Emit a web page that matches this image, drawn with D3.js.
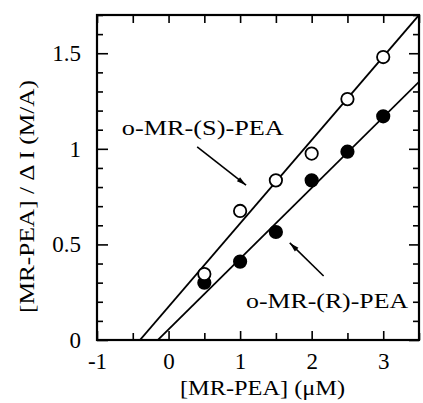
<!DOCTYPE html>
<html>
<head>
<meta charset="utf-8">
<script src="https://cdn.jsdelivr.net/npm/d3@7"></script>
<style>
  html, body { margin: 0; padding: 0; background: #fff; }
  svg text { font-family: "Liberation Serif", "DejaVu Serif", serif; fill: #000; }
</style>
</head>
<body>
<div id="chart"></div>
<script>
(function () {
  'use strict';

  // data
  var conc = [0.5, 1, 1.5, 2, 2.5, 3];
  var sValues = [0.345, 0.675, 0.835, 0.975, 1.26, 1.48];
  var rValues = [0.30, 0.41, 0.565, 0.835, 0.985, 1.17];

  // fitted lines: [slope, intercept]
  var sFit = [0.436, 0.174];
  var rFit = [0.37, 0.0555];

  var xMajor = [-1, 0, 1, 2, 3];
  var xMinor = [-0.5, 0.5, 1.5, 2.5, 3.5];
  var yMajor = [0, 0.5, 1, 1.5];
  var yMinor = [0.1, 0.2, 0.3, 0.4, 0.6, 0.7, 0.8, 0.9, 1.1, 1.2, 1.3, 1.4, 1.6, 1.7];

  // annotations: text anchor in data units, arrow tail -> tip
  var sLabel = { text: 'o-MR-(S)-PEA', x: -0.653, y: 1.073 };
  var rLabel = { text: 'o-MR-(R)-PEA', x: 1.083, y: 0.168 };
  var sArrow = [[0.40, 1.01], [1.083, 0.81]];
  var rArrow = [[2.167, 0.335], [1.694, 0.508]];

  var width = 423, height = 403;
  var margin = { top: 15, right: 4, bottom: 63, left: 97 };
  var iw = width - margin.left - margin.right;
  var ih = height - margin.top - margin.bottom;

  var x = d3.scaleLinear().domain([-1, 3.5]).range([0, iw]);
  var y = d3.scaleLinear().domain([0, 1.7]).range([ih, 0]);

  var svg = d3.select('#chart').append('svg').attr('width', width).attr('height', height);
  var defs = svg.append('defs');
  defs.append('clipPath').attr('id', 'plot-clip')
    .append('rect').attr('x', 0).attr('y', 0).attr('width', iw).attr('height', ih);
  defs.append('marker').attr('id', 'arrowhead').attr('viewBox', '0 0 12 10')
    .attr('refX', 12).attr('refY', 5).attr('markerWidth', 11).attr('markerHeight', 8)
    .attr('markerUnits', 'userSpaceOnUse').attr('orient', 'auto')
    .append('path').attr('d', 'M0,1.8 L12,5 L0,8.2 Z').attr('fill', '#000');

  var g = svg.append('g').attr('transform', 'translate(' + margin.left + ',' + margin.top + ')');

  // Axes (ticks point inward)
  function styleAxis(sel) {
    sel.select('.domain').remove();
    sel.selectAll('.tick line').attr('stroke', '#000').attr('stroke-width', 1.6);
    sel.selectAll('text').attr('font-size', 23).attr('font-family', '"Liberation Serif", serif');
  }
  var plain = function (d) { return String(d); };
  g.append('g').attr('transform', 'translate(0,' + ih + ')')
    .call(d3.axisBottom(x).tickValues(xMajor).tickSize(-9).tickPadding(13).tickFormat(plain))
    .call(styleAxis);
  g.append('g').attr('transform', 'translate(0,' + ih + ')')
    .call(d3.axisBottom(x).tickValues(xMinor).tickSize(-7).tickFormat(''))
    .call(styleAxis);
  g.append('g')
    .call(d3.axisTop(x).tickValues(xMajor.concat(xMinor)).tickSize(-8).tickFormat(''))
    .call(styleAxis);
  g.append('g')
    .call(d3.axisLeft(y).tickValues(yMajor).tickSize(-11).tickPadding(16).tickFormat(plain))
    .call(styleAxis);
  g.append('g')
    .call(d3.axisLeft(y).tickValues(yMinor).tickSize(-6).tickFormat(''))
    .call(styleAxis);
  g.append('g').attr('transform', 'translate(' + iw + ',0)')
    .call(d3.axisRight(y).tickValues(yMajor).tickSize(-10).tickFormat(''))
    .call(styleAxis);
  g.append('g').attr('transform', 'translate(' + iw + ',0)')
    .call(d3.axisRight(y).tickValues(yMinor).tickSize(-6).tickFormat(''))
    .call(styleAxis);

  // Frame
  g.append('rect').attr('x', 0).attr('y', 0).attr('width', iw).attr('height', ih)
    .attr('fill', 'none').attr('stroke', '#000').attr('stroke-width', 2.2);

  // Fit lines
  var plot = g.append('g').attr('clip-path', 'url(#plot-clip)');
  [sFit, rFit].forEach(function (f) {
    var pts = x.domain().map(function (v) { return [v, f[0] * v + f[1]]; });
    plot.append('path').datum(pts)
      .attr('d', d3.line().x(function (d) { return x(d[0]); }).y(function (d) { return y(d[1]); }))
      .attr('fill', 'none').attr('stroke', '#000').attr('stroke-width', 1.8);
  });

  // Points
  function drawPoints(vals, fill) {
    g.append('g').selectAll('circle').data(vals).enter().append('circle')
      .attr('cx', function (d, i) { return x(conc[i]); })
      .attr('cy', function (d) { return y(d); })
      .attr('r', 6.2)
      .attr('fill', fill).attr('stroke', '#000').attr('stroke-width', 1.8);
  }
  drawPoints(rValues, '#000');
  drawPoints(sValues, '#fff');

  // Annotations
  [sArrow, rArrow].forEach(function (a) {
    g.append('line')
      .attr('x1', x(a[0][0])).attr('y1', y(a[0][1]))
      .attr('x2', x(a[1][0])).attr('y2', y(a[1][1]))
      .attr('stroke', '#000').attr('stroke-width', 1.6)
      .attr('marker-end', 'url(#arrowhead)');
  });
  [sLabel, rLabel].forEach(function (l) {
    g.append('text').attr('x', x(l.x)).attr('y', y(l.y))
      .attr('font-size', 20.5).attr('textLength', 162).attr('lengthAdjust', 'spacingAndGlyphs')
      .text(l.text);
  });

  // Axis titles
  svg.append('text').attr('x', 180).attr('y', 395)
    .attr('font-size', 21).attr('textLength', 165).attr('lengthAdjust', 'spacingAndGlyphs')
    .text('[MR-PEA] (\u03bcM)');
  svg.append('text').attr('transform', 'translate(34,313) rotate(-90)')
    .attr('font-size', 21.5).attr('textLength', 233).attr('lengthAdjust', 'spacingAndGlyphs')
    .text('[MR-PEA] / \u0394 I (M/A)');
})();
</script>
</body>
</html>
